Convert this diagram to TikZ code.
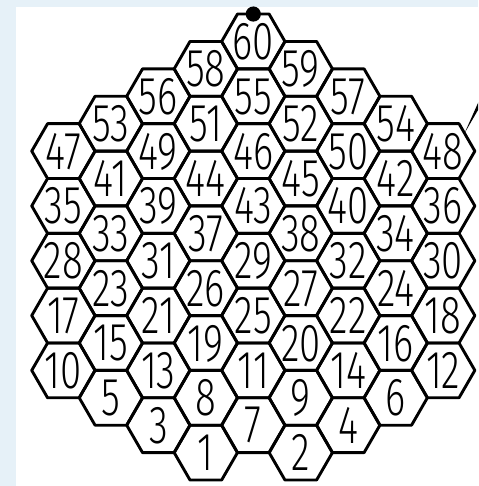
\documentclass[tikz,border=0pt]{standalone}
\usepackage{fontspec}
\newfontfamily\hexfont{Fira Sans Light}[FakeStretch=0.72]
\usetikzlibrary{shapes.geometric}
\definecolor{framebg}{RGB}{230,241,248}
\newcommand\hexnum[1]{\makebox[0pt]{\raisebox{-.5\height}[0pt][0pt]{#1}}}

\begin{document}
\begin{tikzpicture}[
  hexcell/.style={regular polygon, regular polygon sides=6, minimum size=2cm,
    inner sep=0pt, outer sep=0pt, draw, line width=2.6pt, line join=round,
    font=\hexfont\fontsize{48}{50}\selectfont}]
\useasboundingbox (-2.003,-1.055) rectangle (13.10,14.30);
\clip (-2.003,-1.055) rectangle (13.10,14.30);

% Frame
\fill[framebg] (-2.003,-1.055) rectangle (13.10,14.30);
\fill[white] (-1.498,-1.055) rectangle (13.10,14.08);

% Cells, column by column (bottom to top)
\foreach \col/\off/\nums in {0/3/{10,17,28,35,47}, 1/2/{5,15,23,33,41,53},
    2/1/{3,13,21,31,39,49,56}, 3/0/{1,8,19,26,37,44,51,58},
    4/1/{7,11,25,29,43,46,55,60}, 5/0/{2,9,20,27,38,45,52,59},
    6/1/{4,14,22,32,40,50,57}, 7/2/{6,16,24,34,42,54}, 8/3/{12,18,30,36,48}}
{
  \foreach \n [count=\j from 0] in \nums
    \node[hexcell] (h\n) at ({1.5*\col},{0.866*(\off+2*\j)}) {\hexnum{\n}};
}

% Marks
\fill (h60.north) circle (0.24);
\fill[line join=round] (h48.40) -- ++(66:1.6) -- ++(0:0.2) -- cycle;
\end{tikzpicture}
\end{document}
